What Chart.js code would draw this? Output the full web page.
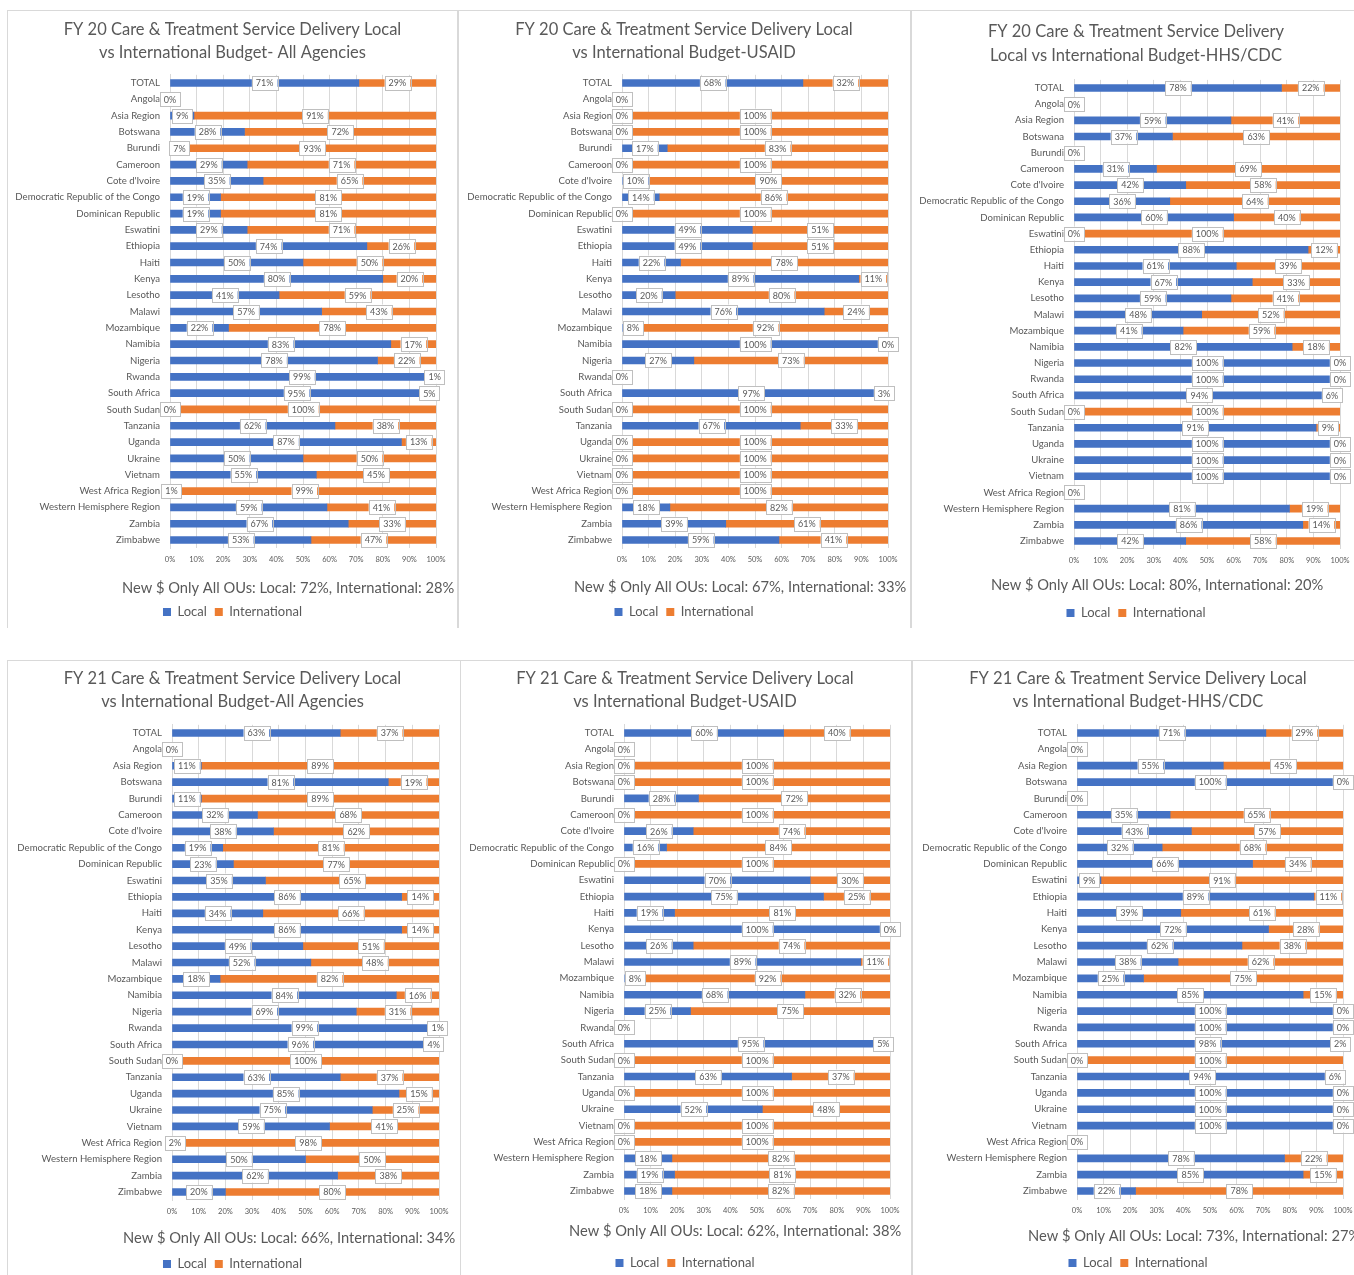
<!DOCTYPE html>
<html>
<head>
<meta charset="utf-8">
<script src="https://cdn.jsdelivr.net/npm/chart.js@4.4.1/dist/chart.umd.min.js"></script>
<style>
  html, body { margin: 0; padding: 0; background: #fff; overflow: hidden; width: 1354px; height: 1275px; }
  .frame { position: absolute; box-sizing: border-box; border: 1px solid #d9d9d9; border-bottom: none; }
  canvas { position: absolute; }
</style>
</head>
<body>
<script>
const categories = [
  "TOTAL", "Angola", "Asia Region", "Botswana", "Burundi", "Cameroon", "Cote d'Ivoire",
  "Democratic Republic of the Congo", "Dominican Republic", "Eswatini", "Ethiopia", "Haiti",
  "Kenya", "Lesotho", "Malawi", "Mozambique", "Namibia", "Nigeria", "Rwanda", "South Africa",
  "South Sudan", "Tanzania", "Uganda", "Ukraine", "Vietnam", "West Africa Region",
  "Western Hemisphere Region", "Zambia", "Zimbabwe",
];

const xTicks = [0, 10, 20, 30, 40, 50, 60, 70, 80, 90, 100];

// FY 20
const fy20AllLocal = [71, 0, 9, 28, 7, 29, 35, 19, 19, 29, 74, 50, 80, 41, 57, 22, 83, 78, 99, 95, 0, 62, 87, 50, 55, 1, 59, 67, 53];
const fy20AllIntl = [29, null, 91, 72, 93, 71, 65, 81, 81, 71, 26, 50, 20, 59, 43, 78, 17, 22, 1, 5, 100, 38, 13, 50, 45, 99, 41, 33, 47];
const fy20UsaidLocal = [68, 0, 0, 0, 17, 0, 10, 14, 0, 49, 49, 22, 89, 20, 76, 8, 100, 27, 0, 97, 0, 67, 0, 0, 0, 0, 18, 39, 59];
const fy20UsaidIntl = [32, null, 100, 100, 83, 100, 90, 86, 100, 51, 51, 78, 11, 80, 24, 92, 0, 73, null, 3, 100, 33, 100, 100, 100, 100, 82, 61, 41];
const fy20CdcLocal = [78, 0, 59, 37, 0, 31, 42, 36, 60, 0, 88, 61, 67, 59, 48, 41, 82, 100, 100, 94, 0, 91, 100, 100, 100, 0, 81, 86, 42];
const fy20CdcIntl = [22, null, 41, 63, null, 69, 58, 64, 40, 100, 12, 39, 33, 41, 52, 59, 18, 0, 0, 6, 100, 9, 0, 0, 0, null, 19, 14, 58];

// FY 21
const fy21AllLocal = [63, 0, 11, 81, 11, 32, 38, 19, 23, 35, 86, 34, 86, 49, 52, 18, 84, 69, 99, 96, 0, 63, 85, 75, 59, 2, 50, 62, 20];
const fy21AllIntl = [37, null, 89, 19, 89, 68, 62, 81, 77, 65, 14, 66, 14, 51, 48, 82, 16, 31, 1, 4, 100, 37, 15, 25, 41, 98, 50, 38, 80];
const fy21UsaidLocal = [60, 0, 0, 0, 28, 0, 26, 16, 0, 70, 75, 19, 100, 26, 89, 8, 68, 25, 0, 95, 0, 63, 0, 52, 0, 0, 18, 19, 18];
const fy21UsaidIntl = [40, null, 100, 100, 72, 100, 74, 84, 100, 30, 25, 81, 0, 74, 11, 92, 32, 75, null, 5, 100, 37, 100, 48, 100, 100, 82, 81, 82];
const fy21CdcLocal = [71, 0, 55, 100, 0, 35, 43, 32, 66, 9, 89, 39, 72, 62, 38, 25, 85, 100, 100, 98, 0, 94, 100, 100, 100, 0, 78, 85, 22];
const fy21CdcIntl = [29, null, 45, 0, null, 65, 57, 68, 34, 91, 11, 61, 28, 38, 62, 75, 15, 0, 0, 2, 100, 6, 0, 0, 0, null, 22, 15, 78];

const titles = [
  ["FY 20 Care & Treatment Service Delivery Local", "vs International Budget- All Agencies"],
  ["FY 20 Care & Treatment Service Delivery Local", "vs International Budget-USAID"],
  ["FY 20 Care & Treatment Service Delivery", "Local vs International Budget-HHS/CDC"],
  ["FY 21 Care & Treatment Service Delivery Local", "vs International Budget-All Agencies"],
  ["FY 21 Care & Treatment Service Delivery Local", "vs International Budget-USAID"],
  ["FY 21 Care & Treatment Service Delivery Local", "vs International Budget-HHS/CDC"],
];
const notes = [
  "New $ Only All OUs: Local: 72%, International: 28%",
  "New $ Only All OUs: Local: 67%, International: 33%",
  "New $ Only All OUs: Local: 80%, International: 20%",
  "New $ Only All OUs: Local: 66%, International: 34%",
  "New $ Only All OUs: Local: 62%, International: 38%",
  "New $ Only All OUs: Local: 73%, International: 27%",
];

const BLUE = "#4472C4";
const ORANGE = "#ED7D31";
const TEXT = "#595959";
const FONT = "Lato, 'Liberation Sans', sans-serif";

// where each chart sits on the page
const panels = [
  { local: fy20AllLocal, intl: fy20AllIntl, left: 7, top: 10, width: 451, height: 618,
    titleY: 30, lh: 23, plotTop: 74.8, plotBottom: 548.2, plotLeft: 170, plotRight: 436, noteX: 122, noteY: 588, legendY: 612 },
  { local: fy20UsaidLocal, intl: fy20UsaidIntl, left: 458, top: 10, width: 452, height: 618,
    titleY: 30, lh: 23, plotTop: 74.8, plotBottom: 548.2, plotLeft: 622, plotRight: 888, noteX: 574, noteY: 587, legendY: 612 },
  { local: fy20CdcLocal, intl: fy20CdcIntl, left: 911, top: 10, width: 450, height: 618,
    titleY: 32, lh: 24, plotTop: 79.9, plotBottom: 549.1, plotLeft: 1074, plotRight: 1340, noteX: 991, noteY: 585, legendY: 613 },
  { local: fy21AllLocal, intl: fy21AllIntl, left: 7, top: 660, width: 451, height: 625,
    titleY: 679, lh: 23, plotTop: 724.8, plotBottom: 1200.2, plotLeft: 172, plotRight: 439, noteX: 123, noteY: 1238, legendY: 1264 },
  { local: fy21UsaidLocal, intl: fy21UsaidIntl, left: 459, top: 660, width: 452, height: 625,
    titleY: 679, lh: 23, plotTop: 724.8, plotBottom: 1199.2, plotLeft: 624, plotRight: 890, noteX: 569, noteY: 1231, legendY: 1263 },
  { local: fy21CdcLocal, intl: fy21CdcIntl, left: 912, top: 660, width: 452, height: 625,
    titleY: 679, lh: 23, plotTop: 724.8, plotBottom: 1199.2, plotLeft: 1077, plotRight: 1343, noteX: 1028, noteY: 1236, legendY: 1263 },
];

const frames = [
  [7, 10, 451, 618], [458, 10, 453, 618], [911, 10, 450, 618],
  [7, 660, 454, 620], [460, 660, 452, 620], [912, 660, 452, 620],
];

// boxed value labels, centred on each segment like Excel's
const valueLabels = {
  id: "valueLabels",
  afterDatasetsDraw(chart) {
    const ctx = chart.ctx;
    ctx.save();
    ctx.font = "9px " + FONT;
    ctx.textAlign = "center";
    ctx.textBaseline = "middle";
    chart.data.datasets.forEach((ds, i) => {
      const meta = chart.getDatasetMeta(i);
      meta.data.forEach((bar, j) => {
        const v = ds.data[j];
        if (v == null) return;
        const { x, y } = bar.getCenterPoint();
        const txt = v + "%";
        const w = ctx.measureText(txt).width + 8;
        const h = 14;
        ctx.fillStyle = "#fff";
        ctx.fillRect(x - w / 2, y - h / 2, w, h);
        ctx.strokeStyle = "#bfbfbf";
        ctx.lineWidth = 1;
        ctx.strokeRect(Math.round(x - w / 2) + 0.5, Math.round(y - h / 2) + 0.5, Math.round(w), h);
        ctx.fillStyle = TEXT;
        ctx.fillText(txt, x, y + 0.5);
      });
    });
    ctx.restore();
  },
};

// the "New $ Only" line under the axis
const noteText = {
  id: "noteText",
  afterDraw(chart, args, opts) {
    const ctx = chart.ctx;
    ctx.save();
    ctx.font = "14.7px " + FONT;
    ctx.fillStyle = TEXT;
    ctx.textAlign = "left";
    ctx.textBaseline = "middle";
    ctx.fillText(opts.text, opts.x, opts.y);
    ctx.restore();
  },
};

// title and legend centred on the whole panel, not only right of the labels
const centerBoxes = {
  id: "centerBoxes",
  afterLayout(chart) {
    [chart.titleBlock, chart.legend].forEach((b) => {
      if (!b) return;
      b.left = 0;
      b.right = chart.width;
      b.width = chart.width;
    });
  },
};

frames.forEach(([x, y, w, h]) => {
  const d = document.createElement("div");
  d.className = "frame";
  d.style.left = x + "px";
  d.style.top = y + "px";
  d.style.width = w + "px";
  d.style.height = h + "px";
  document.body.appendChild(d);
});

panels.forEach((p, k) => {
  const canvas = document.createElement("canvas");
  canvas.width = p.width;
  canvas.height = p.height;
  canvas.style.left = p.left + "px";
  canvas.style.top = p.top + "px";
  document.body.appendChild(canvas);

  const padTop = p.titleY - p.top - p.lh / 2;
  const titleBottom = p.plotTop - p.top - padTop - 2 * p.lh;
  const legPad = 8;
  const legFont = 13;
  const legTop = p.legendY - legPad - legFont / 2;
  const legHeight = legFont + legPad + 10;
  const padBottom = p.top + p.height - (legTop + legHeight);

  new Chart(canvas, {
    type: "bar",
    data: {
      labels: categories,
      datasets: [
        { label: "Local", data: p.local, backgroundColor: BLUE, barThickness: 7 },
        { label: "International", data: p.intl, backgroundColor: ORANGE, barThickness: 7 },
      ],
    },
    options: {
      indexAxis: "y",
      responsive: false,
      animation: false,
      layout: {
        padding: { top: padTop, bottom: padBottom, left: 0, right: p.left + p.width - p.plotRight },
      },
      scales: {
        x: {
          stacked: true,
          min: 0,
          max: 100,
          afterBuildTicks: (s) => { s.ticks = xTicks.map((v) => ({ value: v })); },
          afterFit: (s) => { s.height = legTop - p.plotBottom; },
          ticks: {
            callback: (v) => v + "%",
            font: { family: FONT, size: 7.5 },
            color: TEXT,
            padding: 7,
            maxRotation: 0,
          },
          grid: { color: "#d9d9d9", drawTicks: false },
          border: { display: false },
        },
        y: {
          stacked: true,
          afterFit: (s) => { s.width = p.plotLeft - p.left; },
          ticks: {
            autoSkip: false,
            font: { family: FONT, size: 9.6 },
            color: TEXT,
            padding: 10,
          },
          grid: { display: false, drawTicks: false },
          border: { color: "#d9d9d9" },
        },
      },
      plugins: {
        title: {
          display: true,
          text: titles[k],
          color: TEXT,
          font: { family: FONT, size: 16.5, weight: "normal", lineHeight: p.lh / 16.5 },
          padding: { top: 0, bottom: titleBottom },
        },
        legend: {
          position: "bottom",
          labels: {
            boxWidth: 8,
            boxHeight: 8,
            padding: legPad,
            color: TEXT,
            font: { family: FONT, size: legFont },
          },
        },
        tooltip: { enabled: false },
        noteText: { text: notes[k], x: p.noteX - p.left, y: p.noteY - p.top },
      },
    },
    plugins: [valueLabels, noteText, centerBoxes],
  });
});
</script>
</body>
</html>
